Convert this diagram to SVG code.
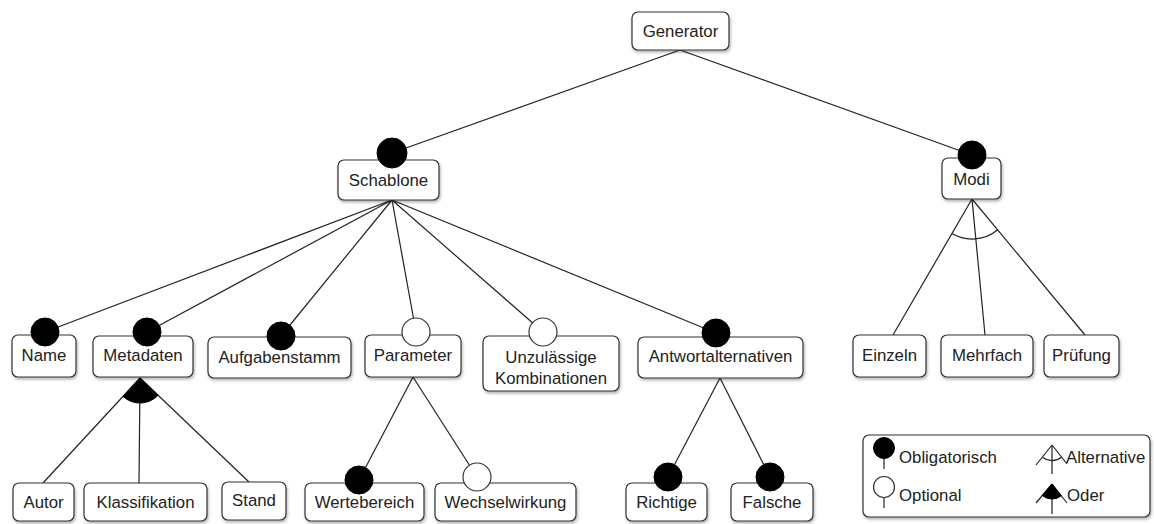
<svg xmlns="http://www.w3.org/2000/svg" width="1154" height="524" viewBox="0 0 1154 524">
<defs>
<filter id="sh" x="-10%" y="-10%" width="130%" height="140%">
<feDropShadow dx="1" dy="2" stdDeviation="1.5" flood-color="#000" flood-opacity="0.3"/>
</filter>
</defs>
<style>
.box{fill:#fff;stroke:#333;stroke-width:1.2;filter:url(#sh)}
.t{font-family:"Liberation Sans",Arial,sans-serif;font-size:16.8px;fill:#222;text-anchor:middle}
.lt{font-family:"Liberation Sans",Arial,sans-serif;font-size:16.8px;fill:#222}
.ln{stroke:#222;stroke-width:1.2;fill:none}
.m{fill:#000;stroke:#000;stroke-width:1}
.o{fill:#fff;stroke:#333;stroke-width:1.2}
</style>
<rect width="1154" height="524" fill="#fff"/>
<g id="connectors">
<line class="ln" x1="680" y1="50" x2="392" y2="153"/>
<line class="ln" x1="680" y1="50" x2="972" y2="155"/>
<line class="ln" x1="392" y1="200" x2="45" y2="332"/>
<line class="ln" x1="392" y1="200" x2="147" y2="332"/>
<line class="ln" x1="392" y1="200" x2="281" y2="336"/>
<line class="ln" x1="392" y1="200" x2="416" y2="332"/>
<line class="ln" x1="392" y1="200" x2="543" y2="332"/>
<line class="ln" x1="392" y1="200" x2="716" y2="333"/>
<line class="ln" x1="972" y1="199" x2="893" y2="335"/>
<line class="ln" x1="972" y1="199" x2="985" y2="335"/>
<line class="ln" x1="972" y1="199" x2="1085" y2="335"/>
<path class="ln" d="M951.9,233.6 A40,40 0 0,0 997.7,229.7"/>
<line class="ln" x1="140" y1="378" x2="43" y2="483"/>
<line class="ln" x1="140" y1="378" x2="139" y2="483"/>
<line class="ln" x1="140" y1="378" x2="249" y2="482"/>
<path class="m" d="M140,378 L123,396.4 A25,25 0 0,0 158.2,395.2 Z"/>
<line class="ln" x1="413" y1="377" x2="359" y2="480"/>
<line class="ln" x1="413" y1="377" x2="477" y2="477"/>
<line class="ln" x1="720" y1="378" x2="668" y2="477"/>
<line class="ln" x1="720" y1="378" x2="770" y2="477"/>
</g>
<g id="generator"><rect class="box" x="632" y="12" width="97" height="38" rx="6"/><text class="t" x="680.5" y="37">Generator</text></g>
<g id="schablone"><rect class="box" x="338" y="160" width="101" height="40" rx="6"/><circle class="m" cx="392" cy="153" r="15"/><text class="t" x="388.5" y="186">Schablone</text></g>
<g id="modi"><rect class="box" x="942" y="158" width="59" height="41" rx="6"/><circle class="m" cx="972" cy="155" r="14"/><text class="t" x="971.5" y="185">Modi</text></g>
<g id="name"><rect class="box" x="12" y="335" width="64" height="42" rx="6"/><circle class="m" cx="45" cy="332" r="14"/><text class="t" x="44" y="361">Name</text></g>
<g id="metadaten"><rect class="box" x="93" y="336" width="100" height="41" rx="6"/><circle class="m" cx="147" cy="332" r="14"/><text class="t" x="143" y="361">Metadaten</text></g>
<g id="aufgabenstamm"><rect class="box" x="208" y="337" width="143" height="41" rx="6"/><circle class="m" cx="281" cy="336" r="14"/><text class="t" x="279.5" y="363">Aufgabenstamm</text></g>
<g id="parameter"><rect class="box" x="365" y="335" width="96" height="42" rx="6"/><circle class="o" cx="416" cy="332" r="14"/><text class="t" x="413" y="361">Parameter</text></g>
<g id="unzulaessige"><rect class="box" x="483" y="336" width="136" height="55" rx="6"/><circle class="o" cx="543" cy="332" r="14"/><text class="t" x="551" y="363">Unzulässige</text><text class="t" x="551" y="384">Kombinationen</text></g>
<g id="antwortalternativen"><rect class="box" x="638" y="337" width="165" height="41" rx="6"/><circle class="m" cx="716" cy="333" r="14"/><text class="t" x="720.5" y="362">Antwortalternativen</text></g>
<g id="einzeln"><rect class="box" x="853" y="335" width="73" height="42" rx="6"/><text class="t" x="889.5" y="361">Einzeln</text></g>
<g id="mehrfach"><rect class="box" x="941" y="335" width="92" height="42" rx="6"/><text class="t" x="987" y="361">Mehrfach</text></g>
<g id="pruefung"><rect class="box" x="1044" y="335" width="75" height="42" rx="6"/><text class="t" x="1081.5" y="361">Prüfung</text></g>
<g id="autor"><rect class="box" x="13" y="483" width="61" height="38" rx="6"/><text class="t" x="43.5" y="508">Autor</text></g>
<g id="klassifikation"><rect class="box" x="84" y="483" width="123" height="38" rx="6"/><text class="t" x="145.5" y="508">Klassifikation</text></g>
<g id="stand"><rect class="box" x="222" y="482" width="64" height="38" rx="6"/><text class="t" x="254" y="506">Stand</text></g>
<g id="wertebereich"><rect class="box" x="305" y="483" width="119" height="38" rx="6"/><circle class="m" cx="359" cy="480" r="14"/><text class="t" x="364.5" y="508">Wertebereich</text></g>
<g id="wechselwirkung"><rect class="box" x="435" y="483" width="141" height="38" rx="6"/><circle class="o" cx="477" cy="477" r="14"/><text class="t" x="505.5" y="508">Wechselwirkung</text></g>
<g id="richtige"><rect class="box" x="626" y="483" width="81" height="38" rx="6"/><circle class="m" cx="668" cy="477" r="14"/><text class="t" x="666.5" y="508">Richtige</text></g>
<g id="falsche"><rect class="box" x="731" y="483" width="82" height="38" rx="6"/><circle class="m" cx="770" cy="477" r="14"/><text class="t" x="772" y="508">Falsche</text></g>
<g id="legend">
<rect class="box" x="863" y="435" width="287" height="82" rx="6"/>
<line class="ln" x1="884" y1="456" x2="884" y2="469"/>
<circle class="m" cx="884" cy="448" r="10.5"/>
<text class="lt" x="899" y="463">Obligatorisch</text>
<line class="ln" x1="884" y1="497" x2="884" y2="508"/>
<circle class="o" cx="884" cy="487" r="10.5"/>
<text class="lt" x="899" y="501">Optional</text>
<line class="ln" x1="1052" y1="445" x2="1036" y2="465"/>
<line class="ln" x1="1052" y1="445" x2="1067" y2="464"/>
<line class="ln" x1="1052" y1="445" x2="1052" y2="474"/>
<path class="ln" d="M1042.6,457.5 A15.5,15.5 0 0,0 1061.5,457.2"/>
<text class="lt" x="1066" y="463">Alternative</text>
<line class="ln" x1="1052" y1="484" x2="1036" y2="503"/>
<line class="ln" x1="1052" y1="484" x2="1067" y2="503"/>
<line class="ln" x1="1052" y1="484" x2="1052" y2="514"/>
<path class="m" d="M1052,484 L1042.3,495.5 A15,15 0 0,0 1061.3,495.8 Z"/>
<text class="lt" x="1067" y="501">Oder</text>
</g>
</svg>
